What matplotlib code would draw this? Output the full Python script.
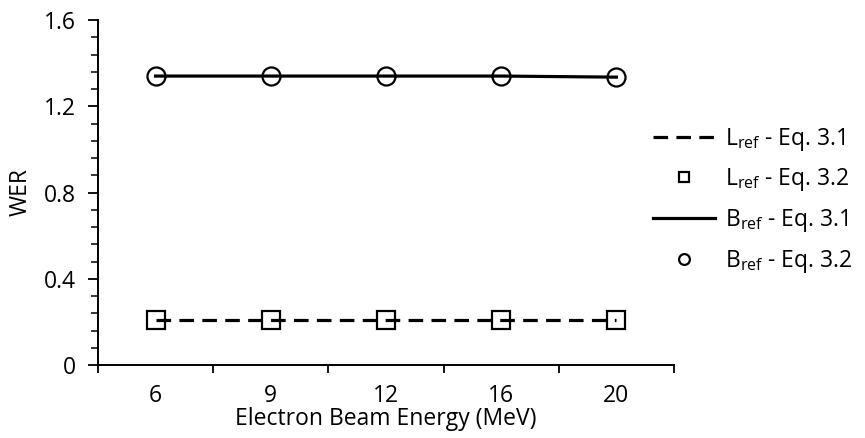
import matplotlib
matplotlib.use("Agg")
import matplotlib.pyplot as plt
import numpy as np
from matplotlib.ticker import MultipleLocator

FONT = 'Open Sans'
plt.rcParams['font.family'] = [FONT, 'DejaVu Sans']
plt.rcParams['mathtext.fontset'] = 'custom'
plt.rcParams['mathtext.rm'] = FONT
plt.rcParams['mathtext.it'] = FONT
plt.rcParams['lines.scale_dashes'] = False

energies = ["6", "9", "12", "16", "20"]
L_eq31 = [0.21, 0.21, 0.21, 0.21, 0.21]
L_eq32 = [0.21, 0.21, 0.21, 0.21, 0.21]
B_eq31 = [1.34, 1.34, 1.34, 1.34, 1.335]
B_eq32 = [1.34, 1.34, 1.34, 1.34, 1.335]
yticks = [0, 0.4, 0.8, 1.2, 1.6]
ytick_labels = ["0", "0.4", "0.8", "1.2", "1.6"]

FS = 16.5
fig = plt.figure(figsize=(8.65, 4.38), dpi=100)
ax = fig.add_axes([98/865, 1-365/438, (674-98)/865, (365-20)/438])

x = np.arange(len(energies))
h1, = ax.plot(x, L_eq31, color='black', lw=2.3, dashes=(10.5, 6), label=r'L$_{\mathrm{ref}}$ - Eq. 3.1', zorder=3)
h2, = ax.plot(x, L_eq32, ls='none', marker='s', ms=12.5, mfc='none', mec='black', mew=1.6, label=r'L$_{\mathrm{ref}}$ - Eq. 3.2', zorder=4)
h3, = ax.plot(x, B_eq31, color='black', lw=2.3, label=r'B$_{\mathrm{ref}}$ - Eq. 3.1', zorder=3)
h4, = ax.plot(x, B_eq32, ls='none', marker='o', ms=13, mfc='none', mec='black', mew=1.6, label=r'B$_{\mathrm{ref}}$ - Eq. 3.2', zorder=4)

ax.set_xlim(-0.5, len(energies)-0.5)
ax.set_ylim(0, 1.6)
ax.set_yticks(yticks)
ax.set_yticklabels(ytick_labels)
ax.yaxis.set_minor_locator(MultipleLocator(0.08))
ax.set_xticks(np.arange(-0.5, len(energies), 1.0))
ax.set_xticklabels([])
ax.set_xticks(x, minor=True)
ax.set_xticklabels(energies, minor=True)
ax.tick_params(axis='x', which='major', length=6, width=1.3)
ax.tick_params(axis='x', which='minor', length=0, labelsize=FS, pad=14)
ax.tick_params(axis='y', which='major', length=7, width=1.3, labelsize=FS, pad=9)
ax.tick_params(axis='y', which='minor', length=5, width=1.1)
for s in ['top', 'right']:
    ax.spines[s].set_visible(False)
for s in ['left', 'bottom']:
    ax.spines[s].set_linewidth(1.4)

ax.set_xlabel('Electron Beam Energy (MeV)', fontsize=FS, labelpad=-1)
ax.set_ylabel('WER', fontsize=FS, labelpad=8)

leg = fig.legend(handles=[h1, h2, h3, h4], loc='upper left', bbox_to_anchor=(632/865, 1-105/438),
                 frameon=False, fontsize=FS, markerscale=0.6, handlelength=2.7,
                 labelspacing=0.6, handletextpad=0.45)

fig.savefig('out.png', dpi=100)
